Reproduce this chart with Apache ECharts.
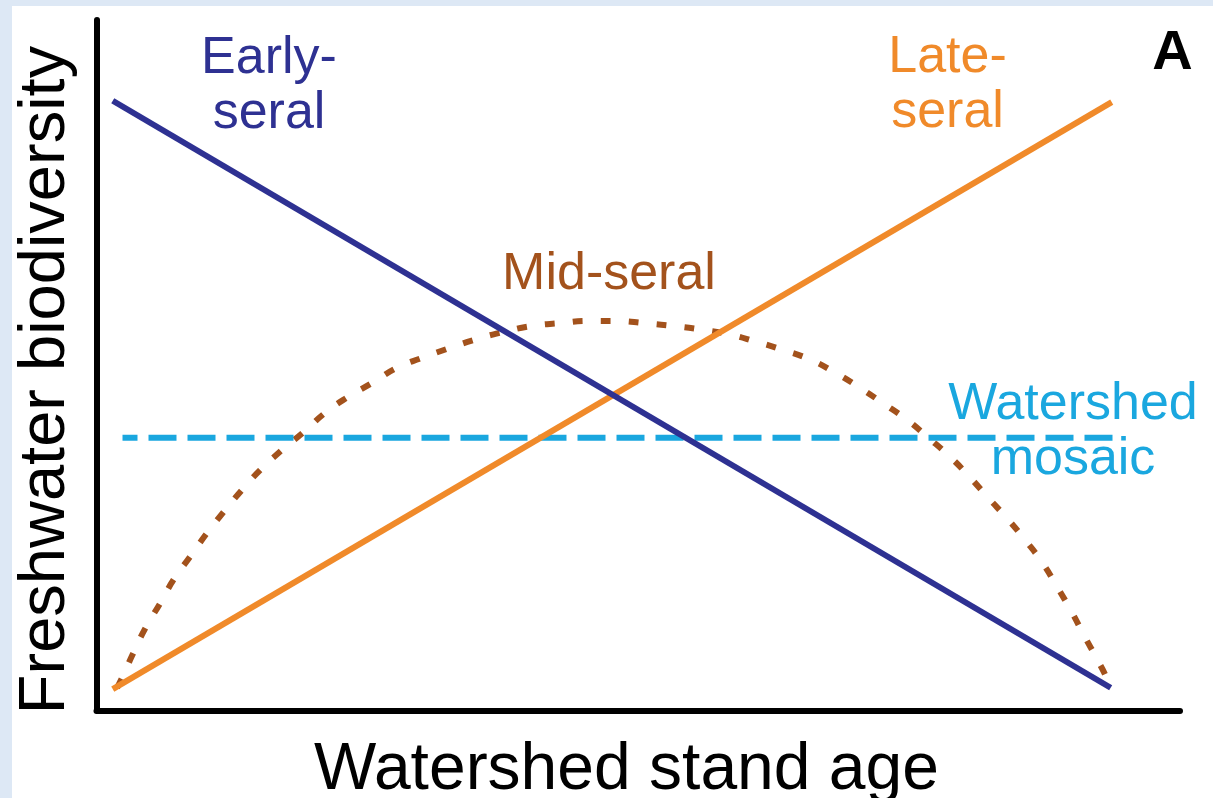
<!DOCTYPE html>
<html>
<head>
<meta charset="utf-8">
<script src="https://cdn.jsdelivr.net/npm/echarts@6/dist/echarts.min.js"></script>
<style>
  html, body { margin: 0; padding: 0; background: #dde8f5; }
  #chart { position: absolute; left: 12px; top: 6px; width: 1201px; height: 792px; background: #ffffff; }
</style>
</head>
<body>
<div id="chart"></div>
<script>
// [stand age, biodiversity] (axes run 0-100, no ticks)
const earlySeral = [[1.5, 88.3], [93.6, 3.3]];
const lateSeral = [[1.5, 3.1], [93.7, 88.1]];
const watershedMosaic = [[2.4, 39.5], [94.0, 39.5]];
const midSeral = [
  [1.9, 3.3], [2.35, 4.7], [3.3, 8.0], [4.5, 11.9], [5.9, 15.6], [7.1, 18.9],
  [8.6, 22.2], [10.2, 25.7], [11.7, 28.7], [13.4, 31.9], [15.1, 34.8], [17.1, 37.7],
  [19.1, 40.3], [21.1, 43.1], [23.2, 45.4], [25.4, 47.4], [27.7, 49.6], [30.1, 51.1],
  [32.6, 52.5], [35.1, 53.8], [37.5, 54.8], [40.2, 55.7], [42.8, 56.1], [45.4, 56.4],
  [48.0, 56.4], [50.6, 56.1], [53.2, 55.7], [55.7, 55.2], [58.3, 54.5], [60.9, 53.4],
  [63.4, 52.2], [65.9, 50.8], [68.2, 48.9], [70.3, 46.9], [72.6, 44.5], [74.8, 42.1],
  [76.7, 39.6], [78.8, 36.7], [80.6, 33.8], [82.3, 30.8], [84.0, 27.9], [85.7, 24.7],
  [87.3, 21.4], [88.7, 17.8], [90.0, 14.3], [91.2, 10.7], [92.4, 7.3], [93.4, 4.1],
  [93.5, 3.3]
];

const xTitle = "Watershed stand age";
const yTitle = "Freshwater biodiversity";

const NAVY = "#2e3192";
const ORANGE = "#f08a2a";
const BROWN = "#a3521c";
const CYAN = "#1aa7df";
const FONT = "Liberation Sans, Arial, Helvetica, sans-serif";

const chart = echarts.init(document.getElementById("chart"));

const hiddenAxis = {
  type: "value",
  min: 0,
  max: 100,
  axisLine: { show: true, lineStyle: { color: "#000", width: 6 } },
  axisTick: { show: false },
  axisLabel: { show: false },
  splitLine: { show: false }
};

function label(text, x, y, color) {
  return {
    type: "text",
    x: x,
    y: y,
    style: {
      text: text,
      fill: color,
      fontSize: 52,
      fontFamily: FONT,
      align: "center",
      verticalAlign: "middle",
      lineHeight: 55
    }
  };
}

chart.setOption({
  animation: false,
  grid: { left: 84.5, top: 14, right: 33, bottom: 87.5 },
  xAxis: hiddenAxis,
  yAxis: hiddenAxis,
  series: [
    {
      name: "Mid-seral",
      type: "line",
      data: midSeral,
      smooth: true,
      showSymbol: false,
      lineStyle: { color: BROWN, width: 6, type: [10, 18], cap: "butt" }
    },
    {
      name: "Watershed mosaic",
      type: "line",
      data: watershedMosaic,
      showSymbol: false,
      lineStyle: { color: CYAN, width: 6, type: [28, 11], dashOffset: 13 }
    },
    {
      name: "Late-seral",
      type: "line",
      data: lateSeral,
      showSymbol: false,
      lineStyle: { color: ORANGE, width: 6 }
    },
    {
      name: "Early-seral",
      type: "line",
      data: earlySeral,
      showSymbol: false,
      lineStyle: { color: NAVY, width: 6 }
    }
  ],
  graphic: [
    label("Early-\nseral", 257, 80, NAVY),
    label("Late-\nseral", 935.5, 79, ORANGE),
    label("Mid-seral", 597, 269, BROWN),
    label("Watershed\nmosaic", 1061, 426.5, CYAN),
    {
      type: "text",
      x: 1160.5,
      y: 47.6,
      style: {
        text: "A", fill: "#000", fontSize: 56, fontWeight: "bold",
        fontFamily: FONT, align: "center", verticalAlign: "middle"
      }
    },
    {
      type: "text",
      x: 614.5,
      y: 765,
      style: {
        text: xTitle, fill: "#000", fontSize: 66,
        fontFamily: FONT, align: "center", verticalAlign: "middle"
      }
    },
    {
      type: "text",
      x: 34,
      y: 374,
      rotation: Math.PI / 2,
      style: {
        text: yTitle, fill: "#000", fontSize: 65,
        fontFamily: FONT, align: "center", verticalAlign: "middle"
      }
    }
  ]
});
</script>
</body>
</html>
